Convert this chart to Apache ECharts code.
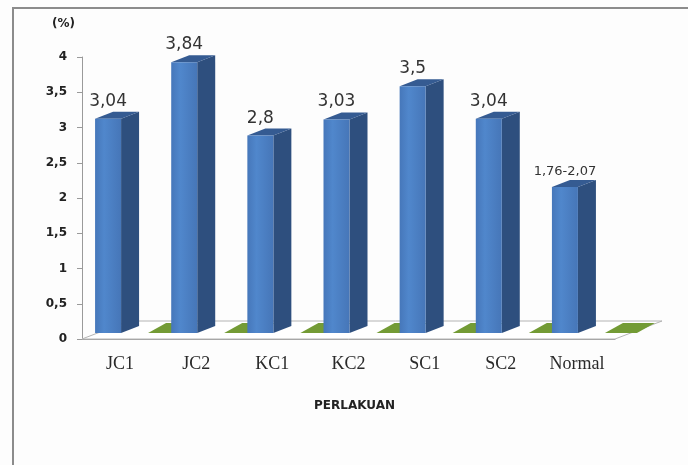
<!DOCTYPE html>
<html>
<head>
<meta charset="utf-8">
<script src="https://cdn.jsdelivr.net/npm/echarts@6/dist/echarts.min.js"></script>
<style>
  html, body { margin: 0; padding: 0; background: #fdfdfd; }
  #main { width: 688px; height: 465px; }
</style>
</head>
<body>
<div id="main"></div>
<script>
var categories = ['JC1', 'JC2', 'KC1', 'KC2', 'SC1', 'SC2', 'Normal'];
var values = [3.04, 3.84, 2.8, 3.03, 3.5, 3.04, 2.07];
var valueLabels = ['3,04', '3,84', '2,8', '3,03', '3,5', '3,04', '1,76-2,07'];
var greenValues = [0, 0, 0, 0, 0, 0, 0];
var yTicks = [0, 0.5, 1, 1.5, 2, 2.5, 3, 3.5, 4];

// 3D offsets (px)
var DEPTH = { dx: 18, dy: -7 };
var FLOOR = { dx: 47, dy: -18 };

function renderFloor(params, api) {
    var c = api.coord([0, 0]);
    var bw = api.size([1, 0])[0];
    var L = c[0] - bw / 2, R = L + categories.length * bw, y = c[1];
    return {
        type: 'polygon',
        shape: { points: [[L, y], [L + FLOOR.dx, y + FLOOR.dy], [R + FLOOR.dx, y + FLOOR.dy], [R, y]] },
        style: { fill: '#ffffff', stroke: '#b4b4b4', lineWidth: 1 }
    };
}

function renderGreen(params, api) {
    var base = api.coord([api.value(0), api.value(1)]);
    var x0 = base[0] + 28, x1 = base[0] + 60, y = base[1] - 6;
    return {
        type: 'polygon',
        shape: { points: [[x0, y], [x1, y], [x1 + 18, y - 10], [x0 + 18, y - 10]] },
        style: { fill: '#739b35' }
    };
}

function renderBar(params, api) {
    var i = api.value(0);
    var top = api.coord([i, api.value(1)]);
    var base = api.coord([i, 0]);
    var x0 = top[0] - 25, x1 = top[0] + 1;
    var yb = base[1] - 6, yt = top[1] - 6;
    var lbl = valueLabels[i];
    return {
        type: 'group',
        children: [
            {
                type: 'polygon',
                shape: { points: [[x1, yb], [x1 + DEPTH.dx, yb + DEPTH.dy], [x1 + DEPTH.dx, yt + DEPTH.dy], [x1, yt]] },
                style: { fill: '#2e4f7e' }
            },
            {
                type: 'polygon',
                shape: { points: [[x0, yt], [x1, yt], [x1 + DEPTH.dx, yt + DEPTH.dy], [x0 + DEPTH.dx, yt + DEPTH.dy]] },
                style: { fill: '#355b92' }
            },
            {
                type: 'rect',
                shape: { x: x0, y: yt, width: x1 - x0, height: yb - yt },
                style: {
                    fill: new echarts.graphic.LinearGradient(0, 0, 1, 0, [
                        { offset: 0, color: '#4677ba' },
                        { offset: 0.35, color: '#5087cc' },
                        { offset: 1, color: '#4676b8' }
                    ])
                }
            },
            {
                type: 'text',
                style: {
                    text: lbl,
                    x: (x0 + x1) / 2,
                    y: yt - 9,
                    align: 'center',
                    verticalAlign: 'bottom',
                    fill: '#333',
                    font: (lbl.length > 5 ? '13px' : '17px') + ' "DejaVu Sans", sans-serif'
                }
            }
        ]
    };
}

var myChart = echarts.init(document.getElementById('main'));
var option = {
    backgroundColor: '#fdfdfd',
    animation: false,
    grid: { left: 82, right: 73, top: 57, bottom: 126 },
    xAxis: {
        type: 'category',
        data: categories,
        name: 'PERLAKUAN',
        nameLocation: 'middle',
        nameGap: 61,
        nameTextStyle: { fontFamily: 'DejaVu Sans', fontWeight: 'bold', fontSize: 12, color: '#222', padding: [0, 0, 0, 12] },
        axisLine: { lineStyle: { color: '#9a9a9a' } },
        axisTick: { length: 5, lineStyle: { color: '#9a9a9a' } },
        axisLabel: { fontFamily: 'Liberation Serif', fontSize: 18, color: '#2a2a2a', margin: 16 }
    },
    yAxis: {
        type: 'value',
        min: 0,
        max: 4,
        interval: 0.5,
        axisLine: { show: true, lineStyle: { color: '#9a9a9a' } },
        axisTick: { show: true, length: 5, lineStyle: { color: '#9a9a9a' } },
        splitLine: { show: false },
        axisLabel: {
            fontFamily: 'DejaVu Sans', fontWeight: 'bold', fontSize: 12, color: '#222', margin: 15,
            formatter: function (v) { return String(v).replace('.', ','); }
        }
    },
    graphic: [
        { type: 'line', shape: { x1: 12, y1: 8, x2: 688, y2: 8 }, style: { stroke: '#8c8c8c', lineWidth: 2 } },
        { type: 'line', shape: { x1: 13, y1: 8, x2: 13, y2: 465 }, style: { stroke: '#8c8c8c', lineWidth: 2 } },
        { type: 'text', left: 52, top: 18, style: { text: '(%)', font: 'bold 12px "DejaVu Sans"', fill: '#222' } }
    ],
    series: [
        { type: 'custom', name: 'floor', renderItem: renderFloor, data: [[0, 0]], silent: true },
        { type: 'custom', name: 'green', renderItem: renderGreen, data: greenValues.map(function (v, i) { return [i, v]; }) },
        { type: 'custom', name: 'nilai', renderItem: renderBar, data: values.map(function (v, i) { return [i, v]; }) }
    ]
};
myChart.setOption(option);
</script>
</body>
</html>
